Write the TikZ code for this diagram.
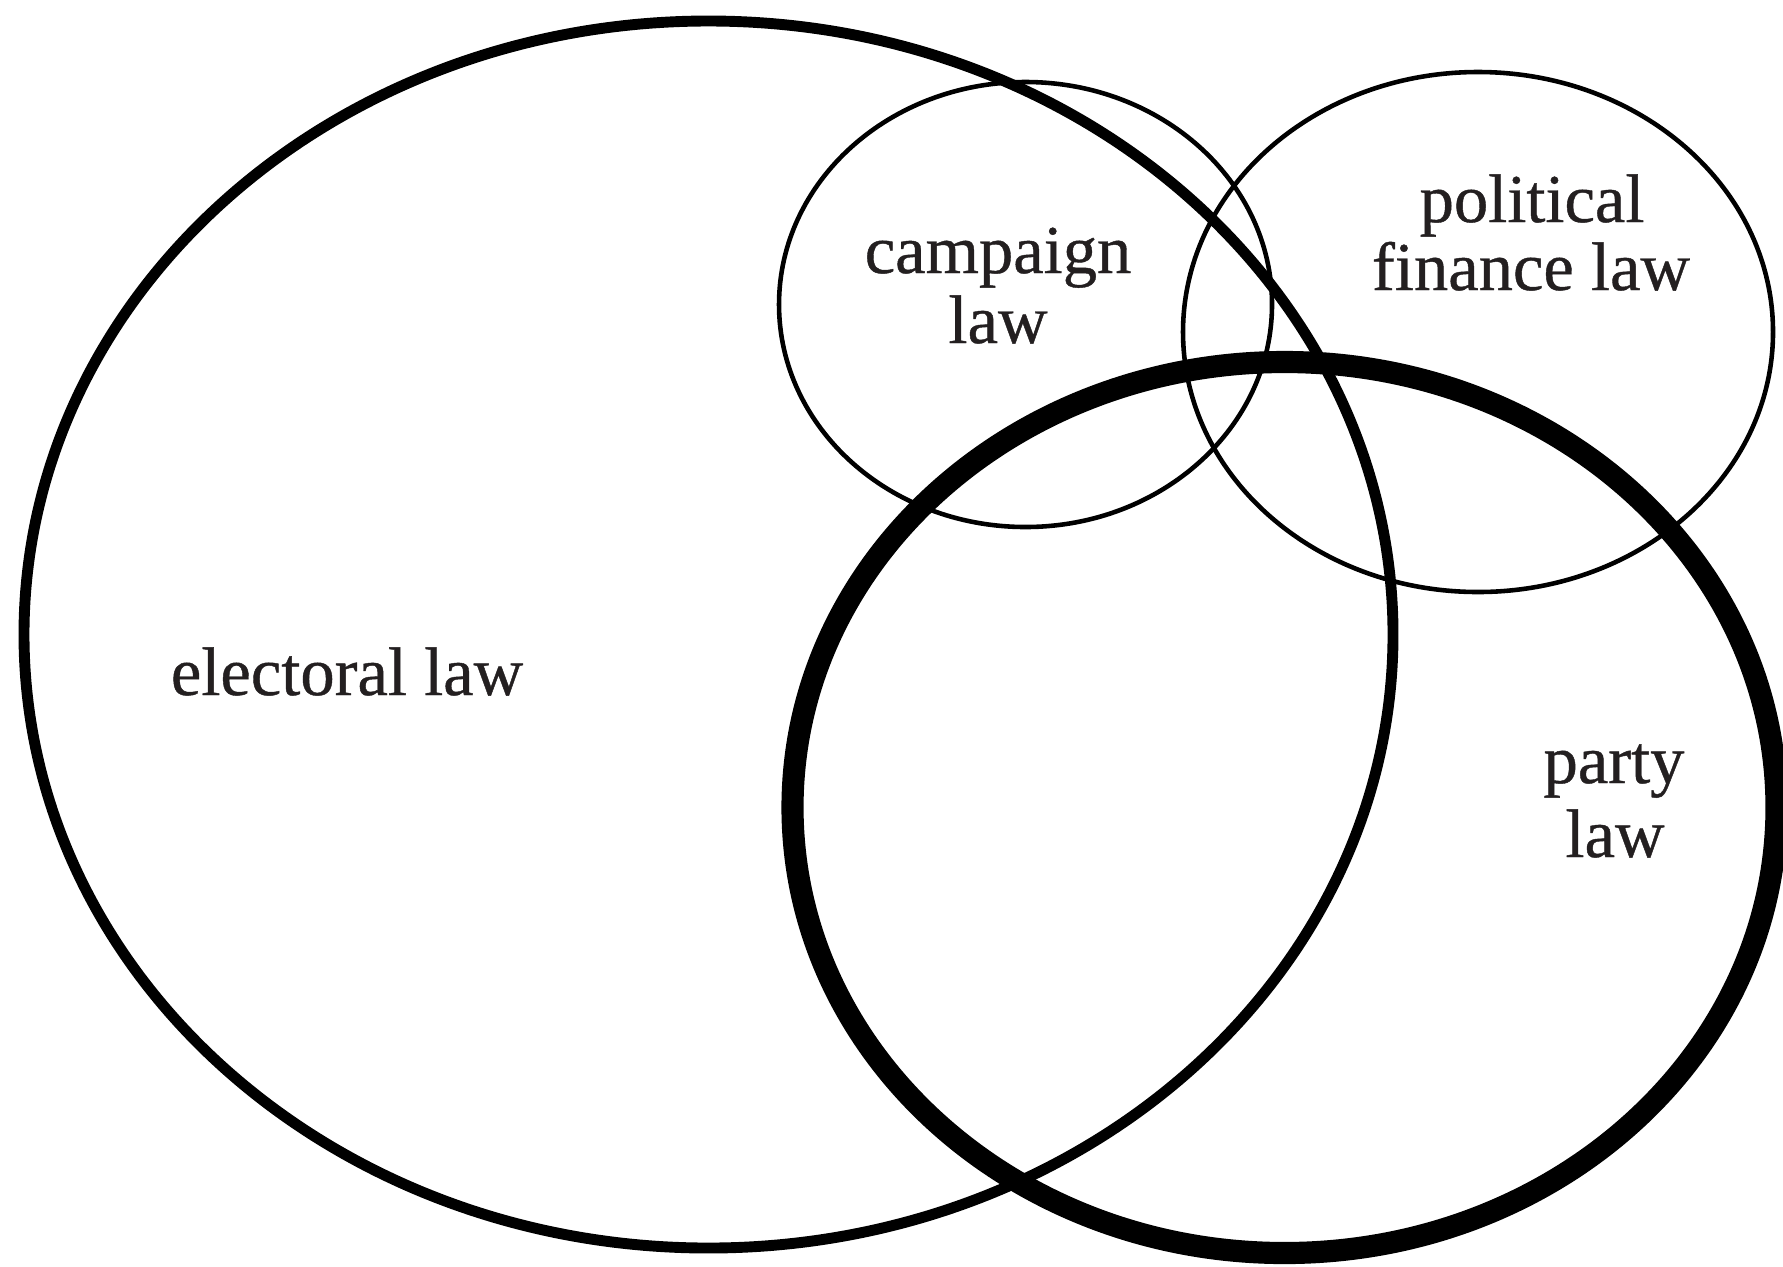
\documentclass[tikz,border=0pt]{standalone}
\usepackage{fontspec}
\setmainfont{Liberation Serif}
\newfontfamily\lblfont[FakeBold=0.6]{Liberation Serif}
\definecolor{ink}{HTML}{231F20}
\tikzset{
  thinring/.style={draw=black,line width=1.3pt},
  midring/.style={draw=black,line width=3.1pt},
  thickring/.style={draw=black,line width=6.3pt},
  lbl/.style={anchor=base,inner sep=0pt,text=ink,font=\lblfont\fontsize{19.5}{20}\selectfont}
}
\begin{document}
\begin{tikzpicture}[x=0.01cm,y=-0.01cm]
\useasboundingbox (0,0) rectangle (1783,1266);
% electoral law
\draw[midring] (708.5,634.5) ellipse [x radius=684.5, y radius=613.5];
% campaign law
\draw[thinring] (1025.5,304.5) ellipse [x radius=246.5, y radius=222.5];
% political finance law
\draw[thinring] (1478,332) ellipse [x radius=295, y radius=260];
% party law
\draw[thickring] (1284.5,807.5) ellipse [x radius=492, y radius=445.5];
% labels
\node[lbl] (electoral) at (347,695) {electoral law};
\node[lbl] (campaignA) at (998,273) {campaign};
\node[lbl] (campaignB) at (998,343) {law};
\node[lbl] (financeA) at (1532,222) {political};
\node[lbl] (financeB) at (1531,290) {finance law};
\node[lbl] (partyA) at (1614,783) {party};
\node[lbl] (partyB) at (1615,857) {law};
\end{tikzpicture}
\end{document}
